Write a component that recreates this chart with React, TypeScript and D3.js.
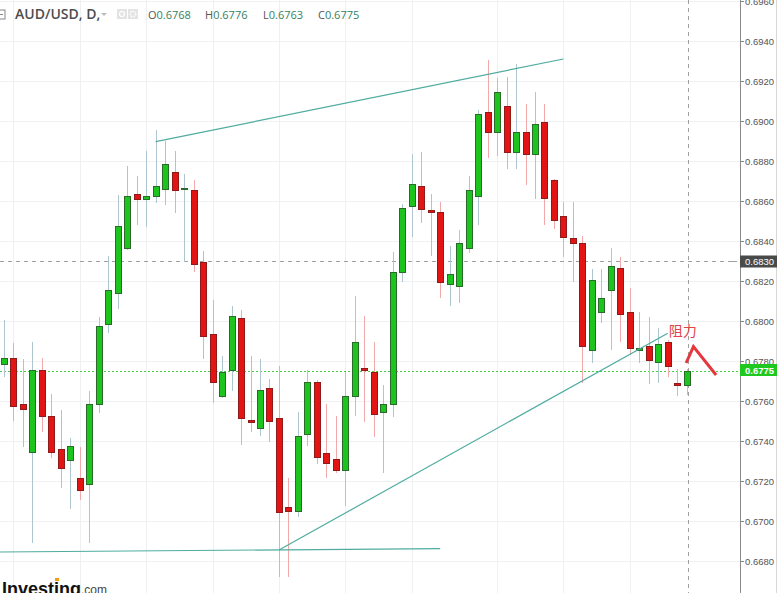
import React from 'react';
import * as d3 from 'd3';

// ---- Data (AUD/USD daily) ----
const opens = [
  0.67785, 0.67815, 0.67585, 0.67345, 0.67755, 0.67525, 0.6736, 0.67305, 0.67215, 0.67185,
  0.67585, 0.67985, 0.6814, 0.68365, 0.68635, 0.6861, 0.68625, 0.6866, 0.68745, 0.68665,
  0.68655, 0.68295, 0.67935, 0.67625, 0.67755, 0.68015, 0.67505, 0.67465, 0.67665, 0.67515,
  0.6707, 0.6705, 0.67435, 0.67695, 0.6734, 0.6731, 0.67255, 0.67625, 0.67765, 0.67745,
  0.67545, 0.67585, 0.68245, 0.68575, 0.68675, 0.68555, 0.68545, 0.68185, 0.68175, 0.68365,
  0.68625, 0.69045, 0.68945, 0.69075, 0.68845, 0.68945, 0.68835, 0.68995, 0.68705, 0.68525,
  0.68415, 0.6839, 0.67855, 0.68045, 0.68155, 0.68265, 0.68045, 0.67855, 0.67875, 0.67795,
  0.67895, 0.6769, 0.6768,
];
const highs = [
  0.68005, 0.6789, 0.6781, 0.67895, 0.67815, 0.67635, 0.67555, 0.67415, 0.6737, 0.6765,
  0.6802, 0.68325, 0.6863, 0.68775, 0.68725, 0.6885, 0.68955, 0.689, 0.6885, 0.68735,
  0.68705, 0.6835, 0.68105, 0.67825, 0.68075, 0.68055, 0.67825, 0.6781, 0.6771, 0.67775,
  0.67215, 0.67545, 0.67755, 0.67705, 0.67585, 0.67525, 0.67745, 0.68125, 0.68025, 0.67895,
  0.6768, 0.68345, 0.68585, 0.68835, 0.68845, 0.68635, 0.68595, 0.68375, 0.68455, 0.68725,
  0.69055, 0.69305, 0.69215, 0.6922, 0.69285, 0.69085, 0.69145, 0.69085, 0.6871, 0.68595,
  0.68595, 0.68425, 0.6826, 0.6826, 0.68365, 0.6832, 0.68165, 0.68045, 0.6802, 0.67965,
  0.67905, 0.6776, 0.6776,
];
const lows = [
  0.6772, 0.675, 0.6737, 0.6689, 0.67445, 0.67315, 0.67165, 0.6706, 0.67105, 0.6689,
  0.6754, 0.6794, 0.6806, 0.68355, 0.6848, 0.6847, 0.6859, 0.6858, 0.6854, 0.68295,
  0.68245, 0.6781, 0.6759, 0.67615, 0.6765, 0.6738, 0.67445, 0.67425, 0.67395, 0.6672,
  0.6672, 0.6702, 0.67375, 0.67285, 0.67215, 0.6724, 0.67075, 0.67525, 0.67495, 0.6742,
  0.6724, 0.6752, 0.68195, 0.6842, 0.6849, 0.68325, 0.68115, 0.68075, 0.6809, 0.6834,
  0.6848, 0.68815, 0.68825, 0.6876, 0.6876, 0.6868, 0.6861, 0.6848, 0.6846, 0.6832,
  0.68195, 0.6769, 0.6779, 0.6799, 0.67855, 0.67895, 0.6783, 0.6779, 0.67685, 0.6769,
  0.6772, 0.67625, 0.6763,
];
const closes = [
  0.67815, 0.67575, 0.6756, 0.67755, 0.67525, 0.67345, 0.67265, 0.67375, 0.67155, 0.67585,
  0.67975, 0.68155, 0.68475, 0.68625, 0.6861, 0.68625, 0.68675, 0.68785, 0.68655, 0.68665,
  0.68285, 0.67925, 0.67695, 0.67745, 0.68025, 0.67515, 0.67495, 0.67655, 0.675, 0.67045,
  0.6705, 0.67425, 0.67695, 0.6732, 0.6729, 0.67255, 0.67625, 0.67895, 0.67755, 0.67535,
  0.67585, 0.68245, 0.68565, 0.68685, 0.6856, 0.68545, 0.68195, 0.68235, 0.6839, 0.68655,
  0.69035, 0.68945, 0.69145, 0.68845, 0.68945, 0.68835, 0.68985, 0.68615, 0.68505, 0.6842,
  0.6839, 0.67875, 0.68205, 0.68115, 0.68275, 0.68035, 0.67865, 0.67865, 0.67805, 0.67885,
  0.67775, 0.6768, 0.6775,
];

const priceTicks = [
  0.668, 0.67, 0.672, 0.674, 0.676, 0.678, 0.68, 0.682, 0.684, 0.686, 0.688, 0.69, 0.692, 0.694, 0.696,
];
const gridBars = [1, 8, 15, 22, 29, 36, 43, 52, 59, 66];

// drawn trend lines: [bar index, price]
const upperLine = [[16, 0.68897], [59, 0.6931]];
const floorLine = [[-0.42, 0.66845], [46, 0.66862]];
const risingLine = [[29, 0.66855], [70, 0.67939]];
const arrowPoints = [[71.94, 0.6779], [72.71, 0.67872], [75.1, 0.6773]];
const noteText = '阻力';
const notePos = [70.1, 0.67925];

const symbolLabel = 'AUD/USD, D,';
const crosshairPrice = 0.683;
const crosshairBar = 72.1;

const W = 778;
const H = 593;
const AXIS_X = 740;

const GREEN = '#1ec41e';
const GREEN_BORDER = '#2a6a2a';
const RED = '#e21414';
const RED_BORDER = '#8e1a1a';
const GREEN_WICK = '#aec6d0';
const RED_WICK = '#f2a9a9';
const TREND = '#4fac9f';

export default function App() {
  const x = d3.scaleLinear().domain([0, 72]).range([4, 686.7]);
  const y = d3.scaleLinear().domain([0.668, 0.694]).range([561, 41]);
  const fmt = d3.format('.4f');
  const lineGen = d3
    .line<number[]>()
    .x((d) => x(d[0]))
    .y((d) => y(d[1]));

  const last = opens.length - 1;
  const lastPrice = closes[last];
  const px = (v: number) => Math.round(v) + 0.5;

  return (
    <>
      <style>{`body{margin:0;} svg{display:block;}`}</style>
      <svg width={W} height={H} style={{ background: '#fff' }}>
        {/* grid */}
        <g>
          {priceTicks.map((t) => (
            <line key={'h' + t} x1={0} x2={AXIS_X} y1={px(y(t))} y2={px(y(t))} stroke="#eef0f2" strokeWidth={1} />
          ))}
          {gridBars.map((b) => (
            <line key={'v' + b} x1={px(x(b))} x2={px(x(b))} y1={0} y2={H} stroke="#eef0f2" strokeWidth={1} />
          ))}
        </g>

        {/* crosshair */}
        <line x1={0} x2={AXIS_X - 3} y1={px(y(crosshairPrice))} y2={px(y(crosshairPrice))} stroke="#a0a0a0" strokeDasharray="4,4" />
        <line x1={px(x(crosshairBar))} x2={px(x(crosshairBar))} y1={0} y2={H} stroke="#a0a0a0" strokeDasharray="4,4" />

        {/* last price line */}
        <line x1={0} x2={AXIS_X} y1={px(y(lastPrice))} y2={px(y(lastPrice))} stroke="#45cf45" strokeDasharray="2,2" />

        {/* candles */}
        <g>
          {opens.map((o, i) => {
            const c = closes[i];
            const up = c >= o;
            const cx = Math.round(x(i));
            const top = Math.round(y(Math.max(o, c)));
            const bot = Math.round(y(Math.min(o, c)));
            return (
              <g key={i}>
                <line x1={cx + 0.5} x2={cx + 0.5} y1={y(highs[i])} y2={y(lows[i])} stroke={up ? GREEN_WICK : RED_WICK} strokeWidth={1} />
                <rect
                  x={cx - 2.5}
                  y={top + 0.5}
                  width={6}
                  height={Math.max(1, bot - top)}
                  fill={up ? GREEN : RED}
                  stroke={up ? GREEN_BORDER : RED_BORDER}
                  strokeWidth={1}
                />
              </g>
            );
          })}
        </g>

        {/* trend lines */}
        <path d={lineGen(upperLine as any) || ''} stroke={TREND} strokeWidth={1.2} fill="none" />
        <path d={lineGen(floorLine as any) || ''} stroke={TREND} strokeWidth={1.2} fill="none" />
        <path d={lineGen(risingLine as any) || ''} stroke={TREND} strokeWidth={1.2} fill="none" />

        {/* annotation */}
        <text x={x(notePos[0])} y={y(notePos[1])} fontFamily="'Noto Sans CJK SC', sans-serif" fontSize={14} fill="#e2424a">
          {noteText}
        </text>
        <path d={lineGen(arrowPoints as any) || ''} stroke="#e5383e" strokeWidth={3} fill="none" strokeLinejoin="miter" />

        {/* right axis */}
        <rect x={AXIS_X} y={0} width={W - AXIS_X} height={H} fill="#fff" />
        <line x1={AXIS_X + 0.5} x2={AXIS_X + 0.5} y1={0} y2={H} stroke="#8a8a8a" />
        <line x1={776.5} x2={776.5} y1={0} y2={H} stroke="#d8d8d8" />
        {priceTicks.map((t) => (
          <g key={'t' + t}>
            <line x1={AXIS_X} x2={AXIS_X + 4} y1={px(y(t))} y2={px(y(t))} stroke="#8a8a8a" />
            <text x={AXIS_X + 5} y={y(t) + 3.5} fontFamily="'Liberation Sans', Arial, sans-serif" fontSize={9.5} fill="#555">
              {fmt(t)}
            </text>
          </g>
        ))}
        <line x1={AXIS_X - 9} x2={AXIS_X - 4} y1={px(y(crosshairPrice))} y2={px(y(crosshairPrice))} stroke="#a0a0a0" />
        <rect x={AXIS_X} y={y(crosshairPrice) - 5.5} width={37} height={12} fill="#4a4a4a" />
        <text x={AXIS_X + 5} y={y(crosshairPrice) + 4} fontFamily="'Liberation Sans', Arial, sans-serif" fontSize={9.5} fill="#fff">
          {fmt(crosshairPrice)}
        </text>
        <rect x={AXIS_X} y={y(lastPrice) - 7} width={37} height={12} fill="#1ec81e" />
        <text x={AXIS_X + 5} y={y(lastPrice) + 2.5} fontFamily="'Liberation Sans', Arial, sans-serif" fontSize={9.5} fill="#fff" fontWeight="bold">
          {fmt(lastPrice)}
        </text>

        {/* header */}
        <g fontFamily="'Open Sans', sans-serif">
          <rect x={-3} y={10} width={8} height={9} fill="none" stroke="#888" />
          <line x1={-1} x2={3} y1={14.5} y2={14.5} stroke="#888" />
          <text x={15} y={19} fontSize={14} fill="#4d4d4d" fontWeight={600}>
            {symbolLabel}
          </text>
          <path d="M101,13 L107,13 L104,16 Z" fill="#bbb" />
          <rect x={117} y={9} width={10} height={10} fill="#e3e3e3" />
          <circle cx={122} cy={14} r={2.5} fill="none" stroke="#fff" strokeWidth={1.2} />
          <rect x={128} y={9} width={10} height={10} fill="#e3e3e3" />
          <circle cx={133} cy={14} r={2.8} fill="none" stroke="#fff" strokeWidth={1.6} strokeDasharray="1.5,1" />
          {[
            ['O', opens[last], 148],
            ['H', highs[last], 205],
            ['L', lows[last], 263],
            ['C', closes[last], 318],
          ].map(([k, v, xx]) => (
            <text key={k as string} x={xx as number} y={19} fontSize={11}>
              <tspan fill="#555">{k as string}</tspan>
              <tspan fill="#357f63">{fmt(v as number)}</tspan>
            </text>
          ))}
        </g>

        {/* logo */}
        <text x={2} y={595} fontFamily="'Liberation Sans', Arial, sans-serif" fontWeight="bold" fontSize={18} fill="#111">
          Investing
        </text>
        <rect x={55} y={578} width={4} height={3} fill="#f39c12" />
        <text x={81} y={594} fontFamily="'Liberation Sans', Arial, sans-serif" fontSize={12} fill="#444">
          .com
        </text>
      </svg>
    </>
  );
}
